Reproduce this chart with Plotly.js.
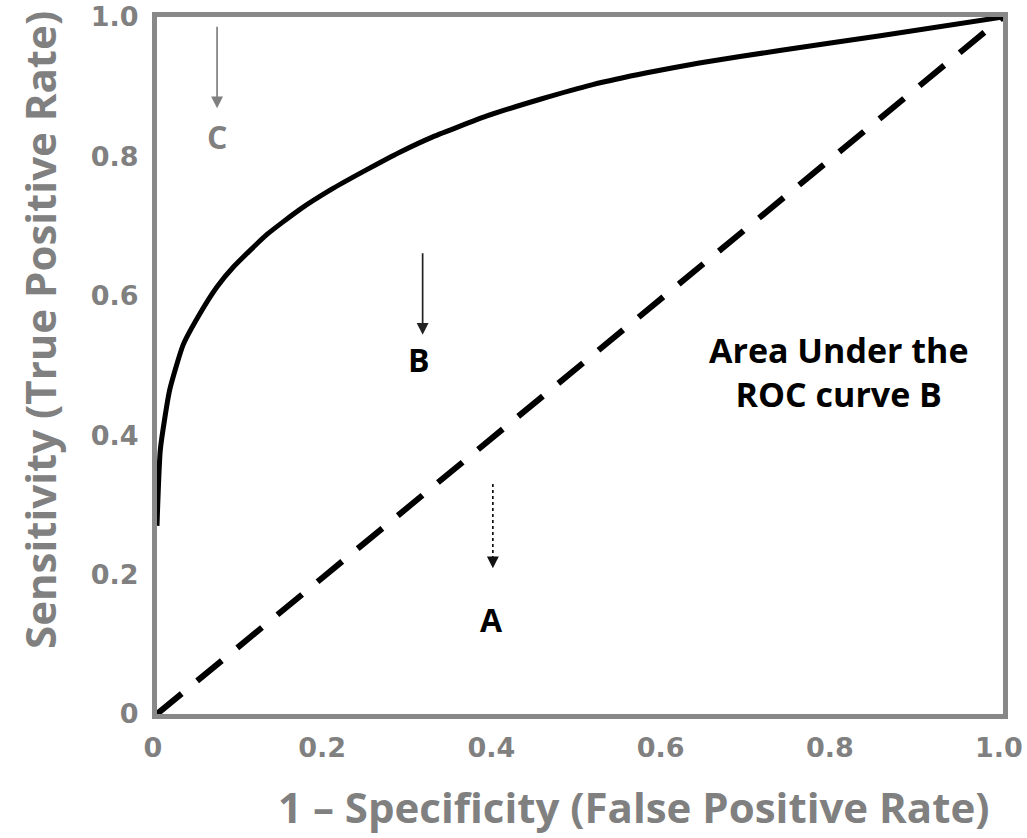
<!DOCTYPE html>
<html>
<head>
<meta charset="utf-8">
<script src="https://cdn.plot.ly/plotly-3.0.1.min.js"></script>
<style>html,body{margin:0;padding:0;background:#fff;}#chart{width:1027px;height:838px;}</style>
</head>
<body>
<div id="chart"></div>
<script>
// ROC curve B
const fpr = [0, 0.004, 0.015, 0.031, 0.051, 0.071, 0.090, 0.130, 0.169, 0.208, 0.248, 0.287, 0.326, 0.390, 0.453, 0.515, 0.579, 0.641, 0.736, 0.855, 1.0];
const tpr = [0.27, 0.38, 0.465, 0.53, 0.575, 0.613, 0.641, 0.688, 0.724, 0.754, 0.781, 0.806, 0.828, 0.858, 0.882, 0.903, 0.920, 0.934, 0.952, 0.973, 1.0];
// Chance line A
const chanceX = [0, 1];
const chanceY = [0, 1];
// Tick labels
const tickVals = [0, 0.2, 0.4, 0.6, 0.8, 1.0];
const xTickText = ['0', '0.2', '0.4', '0.6', '0.8', '1.0'];
const yTickText = ['0', '0.2', '0.4', '0.6', '0.8', '1.0'];

const gray = '#808080';
const font = 'Open Sans, Noto Sans, DejaVu Sans, sans-serif';
const tickFontFamily = 'DejaVu Sans, Verdana, sans-serif';

const traces = [
  {x: chanceX, y: chanceY, mode: 'lines', line: {color: '#000', width: 6, dash: '32px,20px'}, hoverinfo: 'skip'},
  {x: fpr, y: tpr, mode: 'lines', line: {color: '#000', width: 5, shape: 'spline', smoothing: 0.5}, hoverinfo: 'skip'}
];

const axisCommon = {
  range: [0, 1], showgrid: false, zeroline: false, showline: true, mirror: true,
  linecolor: '#888888', linewidth: 5, ticks: '', tickvals: tickVals,
  tickfont: {family: tickFontFamily, size: 27, color: gray, weight: 'bold'}
};

const layout = {
  width: 1027, height: 838,
  margin: {l: 157, r: 24, t: 17, b: 124},
  paper_bgcolor: '#fff', plot_bgcolor: '#fff',
  showlegend: false,
  xaxis: Object.assign({}, axisCommon, {ticktext: xTickText, ticklabelstandoff: 6, ticklabelshift: -4}),
  yaxis: Object.assign({}, axisCommon, {ticktext: yTickText, ticklabelstandoff: 8}),
  annotations: [
    // axis titles
    {xref: 'paper', yref: 'paper', x: 0, y: 0.551, xshift: -117, xanchor: 'center', yanchor: 'middle', textangle: -90, showarrow: false,
     text: 'Sensitivity (True Positive Rate)', font: {family: font, size: 42, color: gray, weight: 'bold'}},
    {xref: 'paper', yref: 'paper', x: 0.563, y: -0.132, showarrow: false, xanchor: 'center', yanchor: 'middle',
     text: '1 – Specificity (False Positive Rate)', font: {family: font, size: 42, color: gray, weight: 'bold'}},
    // arrows
    {x: 0.071, y: 0.869, ax: 0, ay: -83, text: '', showarrow: true, arrowhead: 2, arrowsize: 1.4, arrowwidth: 1.7, arrowcolor: gray},
    {x: 0.314, y: 0.544, ax: 0, ay: -83, text: '', showarrow: true, arrowhead: 2, arrowsize: 1.4, arrowwidth: 1.7, arrowcolor: '#222'},
    {x: 0.397, y: 0.209, ax: 0, ay: -12, text: '', showarrow: true, arrowhead: 2, arrowsize: 1.4, arrowwidth: 1.7, arrowcolor: '#111'},
    // labels
    {x: 0.071, y: 0.828, text: 'C', showarrow: false, font: {family: font, size: 32, color: gray, weight: 'bold'}},
    {x: 0.310, y: 0.508, text: 'B', showarrow: false, font: {family: font, size: 32, color: '#000', weight: 'bold'}},
    {x: 0.395, y: 0.136, text: 'A', showarrow: false, font: {family: font, size: 32, color: '#000', weight: 'bold'}},
    {x: 0.805, y: 0.491, text: 'Area Under the<br>ROC curve B', showarrow: false, align: 'center',
     font: {family: font, size: 34, color: '#000', weight: 'bold'}}
  ],
  shapes: [
    {type: 'line', xref: 'x', yref: 'y', x0: 0.397, x1: 0.397, y0: 0.330, y1: 0.225,
     line: {color: '#111', width: 1.7, dash: 'dot'}}
  ]
};

Plotly.newPlot('chart', traces, layout, {displayModeBar: false, staticPlot: true});
</script>
</body>
</html>
